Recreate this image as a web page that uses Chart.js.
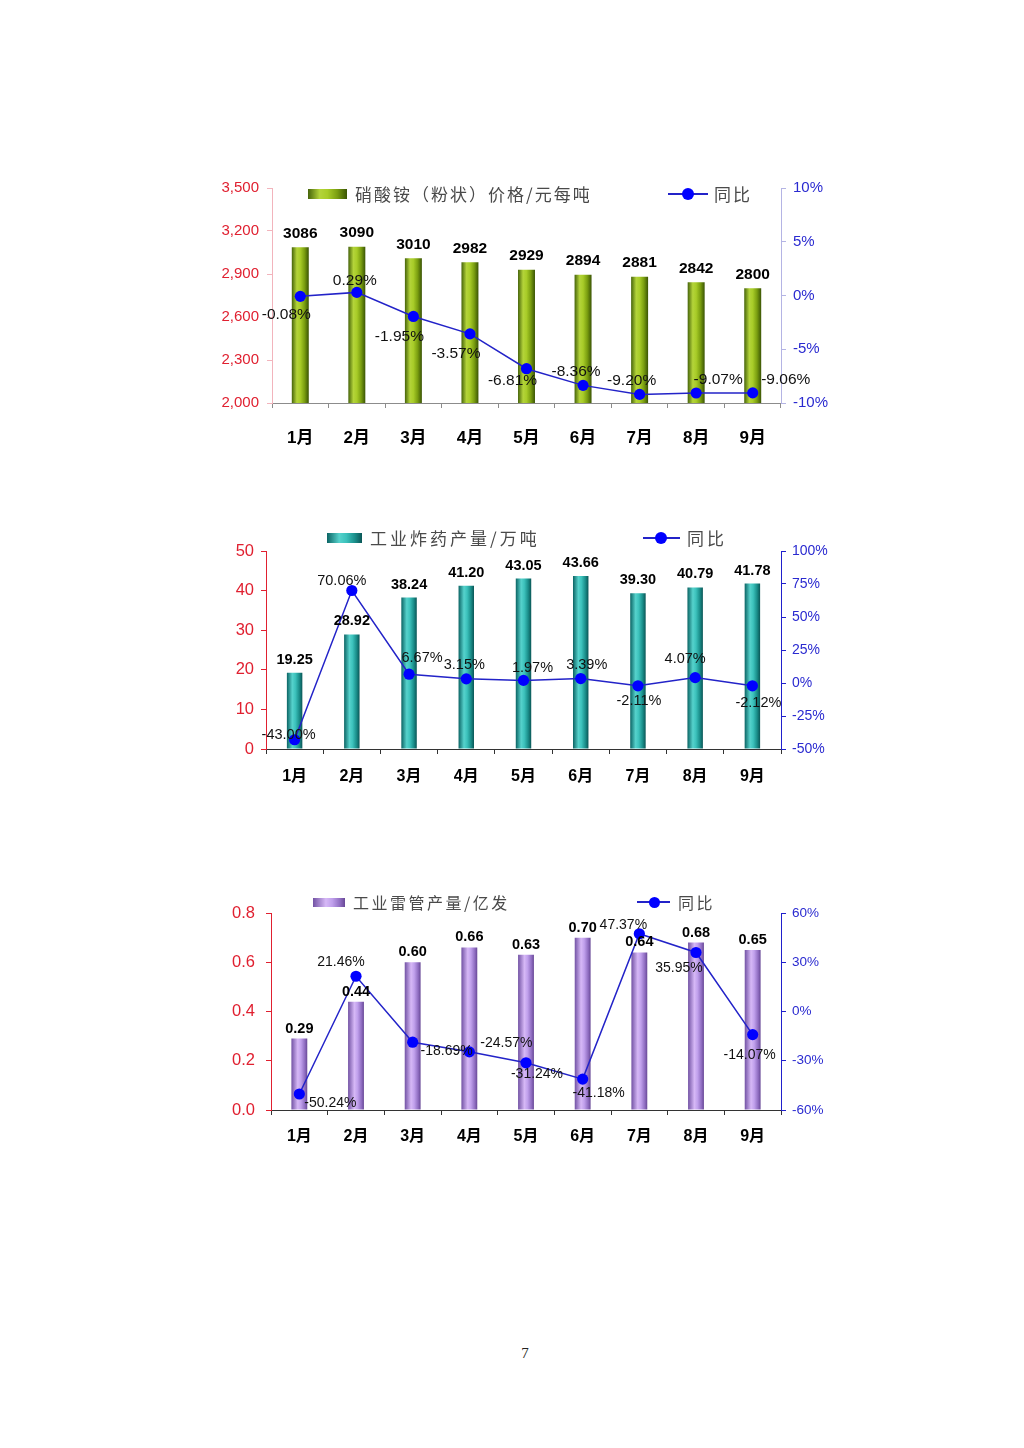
<!DOCTYPE html>
<html>
<head>
<meta charset="utf-8">
<script src="https://cdn.jsdelivr.net/npm/chart.js@4.4.0/dist/chart.umd.min.js"></script>
<style>
html,body{margin:0;padding:0;background:#fff;}
#page{position:relative;width:1024px;height:1448px;overflow:hidden;background:#fff;}
.cv{position:absolute;}
.lg-box{position:absolute;}
.lg-text{position:absolute;white-space:nowrap;font-family:'Noto Sans CJK SC','Noto Sans',sans-serif;color:#4a4a4a;line-height:20px;height:20px;font-weight:400;}
.lg-line{position:absolute;height:2px;background:#2323c8;}
.lg-dot{position:absolute;border-radius:50%;background:#0000ff;}
.pageno{position:absolute;left:505px;top:1343px;width:40px;text-align:center;font-family:'Liberation Serif','DejaVu Serif',serif;font-size:15px;color:#222;line-height:20px;}
</style>
</head>
<body>
<div id="page">
  <div class="cv" style="left:190px;top:170px;width:680px;height:290px;"><canvas id="c1" width="680" height="290"></canvas></div>
  <div class="cv" style="left:190px;top:530px;width:680px;height:280px;"><canvas id="c2" width="680" height="280"></canvas></div>
  <div class="cv" style="left:190px;top:890px;width:680px;height:280px;"><canvas id="c3" width="680" height="280"></canvas></div>

  <!-- legend 1 -->
  <div class="lg-box" id="lb1" style="left:308px;top:189px;width:39px;height:10px;"></div>
  <div class="lg-text" id="lt1" style="left:355px;top:184px;font-size:17px;letter-spacing:2px;"></div>
  <div class="lg-line" style="left:668px;top:193px;width:40px;"></div>
  <div class="lg-dot" style="left:682px;top:188px;width:12px;height:12px;"></div>
  <div class="lg-text" id="ly1" style="left:714px;top:184px;font-size:17px;letter-spacing:2px;"></div>

  <!-- legend 2 -->
  <div class="lg-box" id="lb2" style="left:327px;top:533px;width:35px;height:10px;"></div>
  <div class="lg-text" id="lt2" style="left:370px;top:528px;font-size:17px;letter-spacing:3px;"></div>
  <div class="lg-line" style="left:643px;top:537px;width:37px;"></div>
  <div class="lg-dot" style="left:655px;top:532px;width:12px;height:12px;"></div>
  <div class="lg-text" id="ly2" style="left:687px;top:528px;font-size:17px;letter-spacing:3px;"></div>

  <!-- legend 3 -->
  <div class="lg-box" id="lb3" style="left:313px;top:898px;width:32px;height:9px;"></div>
  <div class="lg-text" id="lt3" style="left:353px;top:892px;font-size:16px;letter-spacing:2.5px;"></div>
  <div class="lg-line" style="left:637px;top:901px;width:33px;"></div>
  <div class="lg-dot" style="left:648.5px;top:897px;width:11px;height:11px;"></div>
  <div class="lg-text" id="ly3" style="left:678px;top:892px;font-size:16px;letter-spacing:2.5px;"></div>

  <div class="pageno">7</div>
</div>

<script>
// ---------------- DATA ----------------
const months = ['1月','2月','3月','4月','5月','6月','7月','8月','9月'];

const priceName = '硝酸铵（粉状）价格/元每吨';
const priceValues = [3086, 3090, 3010, 2982, 2929, 2894, 2881, 2842, 2800];
const priceYoY = [-0.08, 0.29, -1.95, -3.57, -6.81, -8.36, -9.20, -9.07, -9.06];
const priceTicksLeft = ['2,000', '2,300', '2,600', '2,900', '3,200', '3,500'];
const priceTicksRight = ['-10%', '-5%', '0%', '5%', '10%'];

const explosiveName = '工业炸药产量/万吨';
const explosiveValues = [19.25, 28.92, 38.24, 41.20, 43.05, 43.66, 39.30, 40.79, 41.78];
const explosiveYoY = [-43.00, 70.06, 6.67, 3.15, 1.97, 3.39, -2.11, 4.07, -2.12];
const explosiveTicksLeft = ['0', '10', '20', '30', '40', '50'];
const explosiveTicksRight = ['-50%', '-25%', '0%', '25%', '50%', '75%', '100%'];

const detonatorName = '工业雷管产量/亿发';
const detonatorValues = [0.29, 0.44, 0.60, 0.66, 0.63, 0.70, 0.64, 0.68, 0.65];
const detonatorYoY = [-50.24, 21.46, -18.69, -24.57, -31.24, -41.18, 47.37, 35.95, -14.07];
const detonatorTicksLeft = ['0.0', '0.2', '0.4', '0.6', '0.8'];
const detonatorTicksRight = ['-60%', '-30%', '0%', '30%', '60%'];

const yoyName = '同比';

// ---------------- STYLE / LAYOUT ----------------
Chart.defaults.font.family = "'Liberation Sans', Arial, 'Noto Sans CJK SC', sans-serif";

const greenStops = [[0,'#46640a'],[0.3,'#b4d43a'],[0.5,'#a8cc28'],[0.75,'#7a9e10'],[1,'#3a5404']];
const tealStops  = [[0,'#0b6464'],[0.35,'#56d2cc'],[0.55,'#3cc2bc'],[0.8,'#1a8e8a'],[1,'#0a5656']];
const purpleStops= [[0,'#7252a4'],[0.4,'#d6b8f6'],[0.6,'#c0a0ec'],[0.85,'#8e6cc0'],[1,'#684896']];

function cssGrad(stops){
  return 'linear-gradient(to right,' + stops.map(s => s[1] + ' ' + (s[0]*100) + '%').join(',') + ')';
}
document.getElementById('lb1').style.background = cssGrad(greenStops);
document.getElementById('lb2').style.background = cssGrad(tealStops);
document.getElementById('lb3').style.background = cssGrad(purpleStops);
document.getElementById('lt1').textContent = priceName;
document.getElementById('lt2').textContent = explosiveName;
document.getElementById('lt3').textContent = detonatorName;
['ly1','ly2','ly3'].forEach(id => document.getElementById(id).textContent = yoyName);

function barGradient(stops, frac){
  return function(c){
    const chart = c.chart;
    const xs = chart.scales && chart.scales.x;
    if (c.type !== 'data' || !xs || !chart.chartArea) return stops[2][1];
    const cx = xs.getPixelForValue(c.dataIndex);
    const w = (xs.width / months.length) * frac;
    const g = chart.ctx.createLinearGradient(cx - w/2, 0, cx + w/2, 0);
    stops.forEach(s => g.addColorStop(s[0], s[1]));
    return g;
  };
}

const labelPlugin = {
  id: 'valLabels',
  afterDraw(chart, args, o){
    const ctx = chart.ctx;
    ctx.save();
    ctx.textAlign = 'center';
    ctx.textBaseline = 'middle';
    const fam = "'Liberation Sans', Arial, sans-serif";
    const bm = chart.getDatasetMeta(0);
    const bd = chart.data.datasets[0].data;
    ctx.fillStyle = '#000';
    ctx.font = 'bold ' + o.barFont + 'px ' + fam;
    bm.data.forEach((el, i) => {
      ctx.fillText(bd[i].toFixed(o.barDec), el.x, el.y + o.barDy);
    });
    const lm = chart.getDatasetMeta(1);
    const ld = chart.data.datasets[1].data;
    ctx.font = o.pctFont + 'px ' + fam;
    ctx.fillStyle = '#111';
    lm.data.forEach((el, i) => {
      const off = o.pctOff[i];
      ctx.fillText(ld[i].toFixed(2) + '%', el.x + off[0], el.y + off[1]);
    });
    ctx.restore();
  }
};

function makeChart(id, c){
  return new Chart(document.getElementById(id), {
    type: 'bar',
    data: {
      labels: months,
      datasets: [
        { type:'bar', label:c.name, data:c.bars, yAxisID:'y',
          backgroundColor: barGradient(c.stops, c.barFrac), borderWidth:0,
          barPercentage:c.barFrac, categoryPercentage:1, order:2 },
        { type:'line', label:yoyName, data:c.yoy, yAxisID:'y1',
          borderColor:'#2323c8', borderWidth:1.5, pointRadius:5.6,
          pointBackgroundColor:'#0000ff', pointBorderColor:'#0000ff', pointBorderWidth:0,
          tension:0, clip:false, order:1 }
      ]
    },
    options: {
      responsive:false, animation:false, devicePixelRatio:1,
      layout:{ padding:{ top:c.padTop, left:0, right:0, bottom:0 } },
      plugins:{
        legend:{display:false}, tooltip:{enabled:false},
        valLabels:{ barFont:c.barFont, barDy:c.barDy, barDec:c.barDec, pctFont:c.pctFont, pctOff:c.pctOff }
      },
      scales:{
        x:{
          offset:true,
          grid:{ offset:true, drawOnChartArea:false, drawTicks:true, tickLength:5, color:c.xColor },
          border:{ color:c.xColor, width:1 },
          ticks:{ color:'#000', font:{ size:c.xFont, weight:'bold' }, padding:c.xPad, maxRotation:0, autoSkip:false },
          afterFit(s){ s.height = c.xH; }
        },
        y:{
          position:'left', min:c.lMin, max:c.lMax,
          ticks:{ stepSize:c.lStep, color:'#e02030', font:{ size:c.lFont }, padding:c.lPad,
                  callback:(v, i) => c.lTicks[i] },
          grid:{ drawOnChartArea:false, drawTicks:true, tickLength:5, color:c.lColor },
          border:{ color:c.lColor, width:1 },
          afterFit(s){ s.width = c.lW; }
        },
        y1:{
          position:'right', min:c.rMin, max:c.rMax,
          ticks:{ stepSize:c.rStep, color:'#2a2ad0', font:{ size:c.rFont }, padding:c.rPad,
                  callback:(v, i) => c.rTicks[i] },
          grid:{ drawOnChartArea:false, drawTicks:true, tickLength:5, color:c.rColor },
          border:{ color:c.rColor, width:1 },
          afterFit(s){ s.width = c.rW; }
        }
      }
    },
    plugins:[labelPlugin]
  });
}

makeChart('c1', {
  name:priceName, bars:priceValues, yoy:priceYoY, stops:greenStops, barFrac:0.30,
  padTop:18, lW:82, rW:89, xH:57,
  lMin:2000, lMax:3500, lStep:300, lTicks:priceTicksLeft, lFont:15, lPad:8, lColor:'#f2b4bc',
  rMin:-10, rMax:10, rStep:5, rTicks:priceTicksRight, rFont:15, rPad:7, rColor:'#b4b4e4',
  xColor:'#8c8c8c', xFont:17, xPad:20,
  barFont:15.5, barDy:-14, barDec:0, pctFont:15.5,
  pctOff:[[-14,18],[-2,-12],[-14,20],[-14,20],[-14,12],[-7,-14],[-8,-14],[22,-13],[33,-13]]
});

makeChart('c2', {
  name:explosiveName, bars:explosiveValues, yoy:explosiveYoY, stops:tealStops, barFrac:0.27,
  padTop:21, lW:76, rW:89, xH:61,
  lMin:0, lMax:50, lStep:10, lTicks:explosiveTicksLeft, lFont:16.5, lPad:7, lColor:'#e02030',
  rMin:-50, rMax:100, rStep:25, rTicks:explosiveTicksRight, rFont:14, rPad:6, rColor:'#2020cc',
  xColor:'#333333', xFont:16, xPad:13,
  barFont:14.5, barDy:-13, barDec:2, pctFont:14.5,
  pctOff:[[-6,-5],[-10,-10],[13,-16],[-2,-14],[9,-12],[6,-14],[1,15],[-10,-19],[6,17]]
});

makeChart('c3', {
  name:detonatorName, bars:detonatorValues, yoy:detonatorYoY, stops:purpleStops, barFrac:0.28,
  padTop:23, lW:81, rW:89, xH:60,
  lMin:0, lMax:0.8, lStep:0.2, lTicks:detonatorTicksLeft, lFont:16.5, lPad:11, lColor:'#e02030',
  rMin:-60, rMax:60, rStep:30, rTicks:detonatorTicksRight, rFont:13.5, rPad:6, rColor:'#2020cc',
  xColor:'#333333', xFont:16, xPad:12,
  barFont:14.5, barDy:-10, barDec:2, pctFont:14,
  pctOff:[[31,9],[-15,-14],[34,9],[37,-9],[11,11],[16,14],[-16,-9],[-17,16],[-3,21]]
});
</script>
</body>
</html>
